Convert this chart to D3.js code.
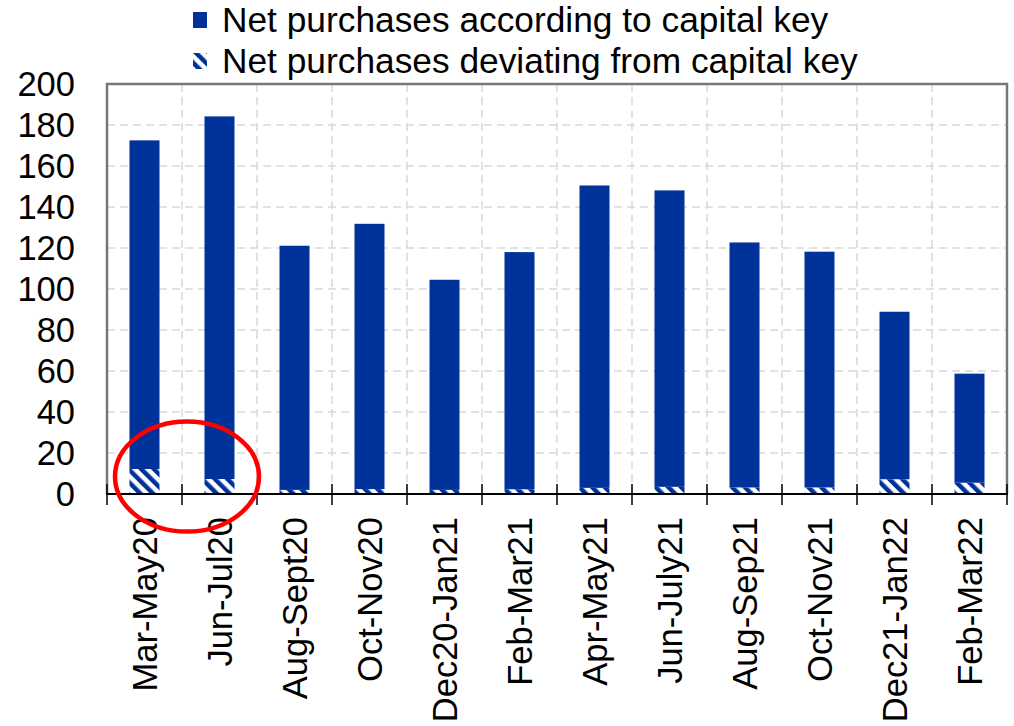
<!DOCTYPE html>
<html>
<head>
<meta charset="utf-8">
<script src="https://cdn.jsdelivr.net/npm/d3@7"></script>
<style>
  html, body { margin: 0; padding: 0; background: #ffffff; }
  svg { display: block; }
  text { font-family: "Liberation Sans", Arial, sans-serif; fill: #000; }
</style>
</head>
<body>
<svg id="chart" width="1014" height="726"></svg>
<script>
// Periods (two- or three-month windows)
const categories = [
  "Mar-May20", "Jun-Jul20", "Aug-Sept20", "Oct-Nov20", "Dec20-Jan21", "Feb-Mar21",
  "Apr-May21", "Jun-July21", "Aug-Sep21", "Oct-Nov21", "Dec21-Jan22", "Feb-Mar22"
];
// Net purchases deviating from capital key (EUR bn)
const deviatingValues = [12.2, 7.3, 2.0, 2.4, 2.0, 2.3, 3.0, 3.5, 3.2, 3.2, 7.2, 5.5];
// Net purchases according to capital key (EUR bn)
const capitalKeyValues = [160.3, 176.9, 119.1, 129.4, 102.5, 115.7, 147.5, 144.6, 119.5, 115.0, 81.7, 53.2];
// Y axis ticks
const yTicks = [0, 20, 40, 60, 80, 100, 120, 140, 160, 180, 200];
const seriesNames = ["Net purchases according to capital key", "Net purchases deviating from capital key"];

const BLUE = "#003299";
const svg = d3.select("#chart");

const plot = { left: 107, right: 1007, top: 84, bottom: 494 };

const x = d3.scaleBand()
  .domain(categories)
  .range([plot.left, plot.right])
  .paddingInner(0.6)
  .paddingOuter(0.3);
const slot = d3.scaleLinear().domain([0, categories.length]).range([plot.left, plot.right]);
const y = d3.scaleLinear().domain([0, 200]).range([plot.bottom, plot.top]);

// Diagonal hatch for the deviating purchases
const defs = svg.append("defs");
const pat = defs.append("pattern")
  .attr("id", "hatch")
  .attr("patternUnits", "userSpaceOnUse")
  .attr("width", 9).attr("height", 9)
  .attr("patternTransform", "rotate(-45)");
pat.append("rect").attr("width", 9).attr("height", 9).attr("fill", "#ffffff");
pat.append("rect").attr("width", 4.5).attr("height", 9).attr("fill", BLUE);

// Grid lines
const grid = svg.append("g").attr("stroke", "#d9d9d9").attr("stroke-width", 1.5)
  .attr("stroke-dasharray", "8,5");
grid.selectAll(".hg").data(yTicks.filter(d => d > 0 && d < 200)).join("line")
  .attr("x1", plot.left).attr("x2", plot.right)
  .attr("y1", d => y(d)).attr("y2", d => y(d));
grid.selectAll(".vg").data(d3.range(1, categories.length)).join("line")
  .attr("x1", d => slot(d)).attr("x2", d => slot(d))
  .attr("y1", plot.top).attr("y2", plot.bottom);

// Stacked bars
const stackData = categories.map((c, i) => ({ cat: c, dev: deviatingValues[i], key: capitalKeyValues[i] }));
const bars = svg.append("g");
bars.selectAll(".dev").data(stackData).join("rect")
  .attr("x", d => x(d.cat)).attr("width", x.bandwidth())
  .attr("y", d => y(d.dev)).attr("height", d => y(0) - y(d.dev))
  .attr("fill", "url(#hatch)");
bars.selectAll(".key").data(stackData).join("rect")
  .attr("x", d => x(d.cat)).attr("width", x.bandwidth())
  .attr("y", d => y(d.dev + d.key)).attr("height", d => y(d.dev) - y(d.dev + d.key))
  .attr("fill", BLUE);

// Plot frame (top, left, right)
svg.append("path")
  .attr("d", `M${plot.left},${plot.bottom} V${plot.top} H${plot.right} V${plot.bottom}`)
  .attr("fill", "none").attr("stroke", "#777").attr("stroke-width", 2.5);

// X axis line and boundary ticks
const xAxis = svg.append("g");
xAxis.append("line")
  .attr("x1", plot.left - 1).attr("x2", plot.right + 1)
  .attr("y1", plot.bottom).attr("y2", plot.bottom)
  .attr("stroke", "#000").attr("stroke-width", 2);
xAxis.selectAll(".tk").data(d3.range(0, categories.length + 1)).join("line")
  .attr("x1", d => slot(d)).attr("x2", d => slot(d))
  .attr("y1", plot.bottom - 10).attr("y2", plot.bottom + 11)
  .attr("stroke", "#000").attr("stroke-width", 1.5);

// Category labels, rotated
xAxis.selectAll(".lbl").data(categories).join("text")
  .attr("transform", d => `translate(${x(d) + x.bandwidth() / 2},517) rotate(-90)`)
  .attr("text-anchor", "end")
  .attr("dy", "0.35em")
  .style("font-size", "34.5px")
  .text(d => d);

// Y axis labels
const yAxis = svg.append("g").attr("transform", `translate(75,0)`)
  .call(d3.axisLeft(y).tickValues(yTicks).tickSize(0).tickPadding(0).tickFormat(d3.format("d")));
yAxis.select(".domain").remove();
yAxis.selectAll("text").style("font-size", "34.5px")
  .style("font-family", '"Liberation Sans", Arial, sans-serif').attr("fill", "#000");

// Highlight ellipse around the first two periods
svg.append("ellipse")
  .attr("cx", slot(1) + 5)
  .attr("cy", y(8.5)).attr("rx", 72).attr("ry", 55)
  .attr("fill", "none").attr("stroke", "#ff0000").attr("stroke-width", 4.5);

// Legend
const legend = svg.append("g");
const rows = [{ name: seriesNames[0], fill: BLUE, base: 32 }, { name: seriesNames[1], fill: "url(#hatch)", base: 73 }];
legend.selectAll("rect").data(rows).join("rect")
  .attr("x", 193).attr("y", d => d.base - 20).attr("width", 14).attr("height", 16)
  .attr("fill", d => d.fill);
legend.selectAll("text").data(rows).join("text")
  .attr("x", 222).attr("y", d => d.base)
  .style("font-size", "35.3px")
  .text(d => d.name);
</script>
</body>
</html>
